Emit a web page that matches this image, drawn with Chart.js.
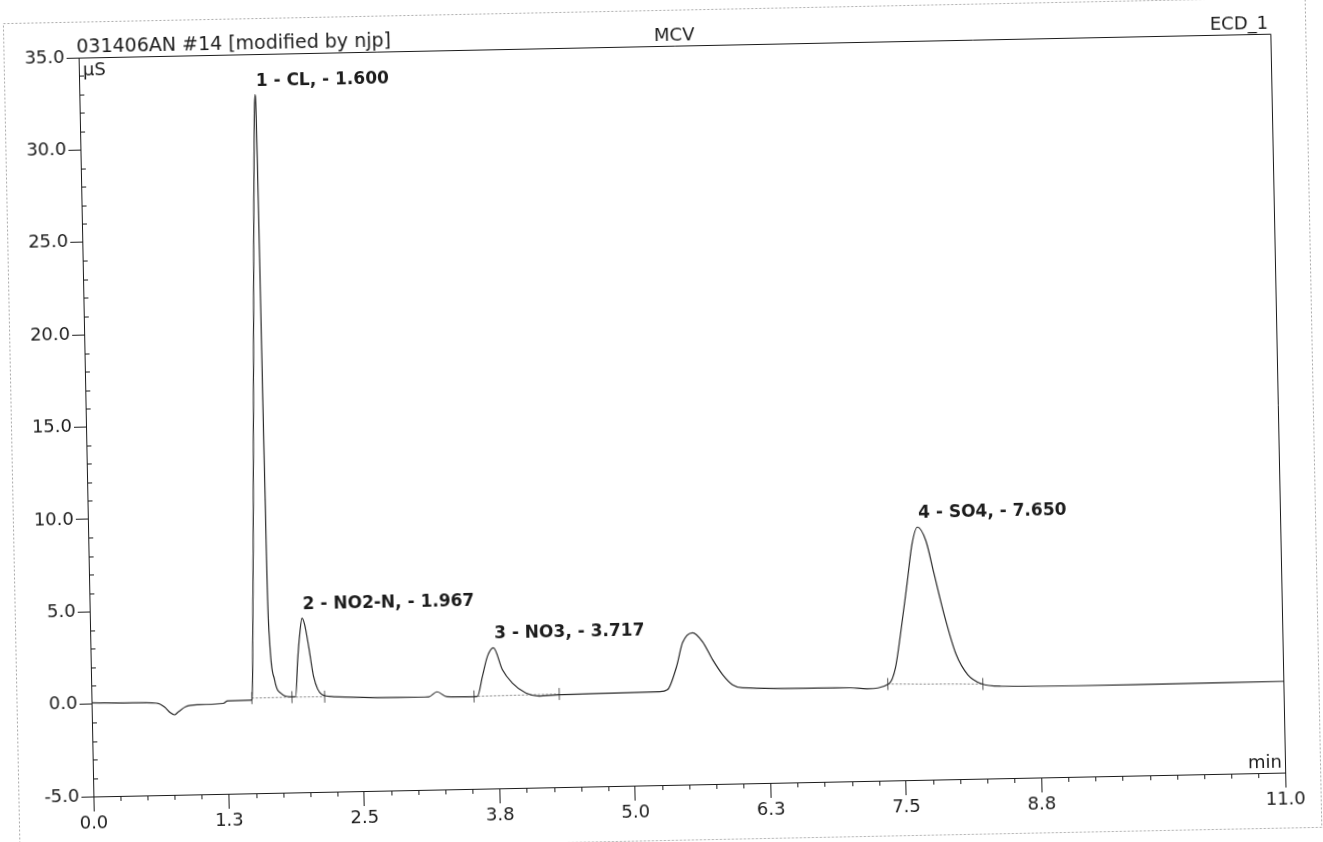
<!DOCTYPE html>
<html>
<head>
<meta charset="utf-8">
<title>ECD_1 chromatogram</title>
<script src="https://cdn.jsdelivr.net/npm/chart.js@4.4.1/dist/chart.umd.min.js"></script>
<style>
  html, body { margin: 0; padding: 0; background: #fff; overflow: hidden; }
  #wrap { position: relative; width: 1323px; height: 842px; }
  /* the scanned page sits slightly askew */
  #chromatogram { position: absolute; left: 0; top: 0; transform: rotate(-1.15deg); transform-origin: 50% 50%; }
</style>
</head>
<body>
<div id="wrap"><canvas id="chromatogram" width="1323" height="842"></canvas></div>
<script>
// detector trace (time in min, signal in µS)
const traceTime = [0.00, 0.34, 0.60, 0.67, 0.725, 0.762, 0.80, 0.865, 0.985, 1.217, 1.255, 1.467,
  1.48, 1.49, 1.53, 1.58, 1.61, 1.621, 1.628, 1.633, 1.637, 1.641, 1.654, 1.693, 1.755, 1.838,
  1.884, 1.91, 1.933, 1.957, 1.981, 2.014, 2.054, 2.128, 2.236,
  3.02, 3.114, 3.189, 3.281, 3.484,
  3.561, 3.611, 3.661, 3.718, 3.797, 3.887, 4.009, 4.131, 4.317,
  5.242, 5.316, 5.404, 5.464, 5.558, 5.649, 5.738, 5.828, 5.918, 6.01,
  7.0, 7.157, 7.361, 7.424, 7.476, 7.546, 7.60, 7.652, 7.727, 7.797, 7.882, 7.986, 8.09, 8.212, 8.396,
  9.636, 11.0];
const traceValue = [0.07, 0.03, -0.02, -0.22, -0.55, -0.67, -0.51, -0.25, -0.15, -0.10, 0.03, 0.04,
  0.06, 1.14, 10.9, 24.4, 31.6, 32.8, 31.5, 24.0, 15.5, 7.6, 3.3, 1.12, 0.35, 0.18,
  0.18, 2.18, 3.53, 4.43, 4.06, 2.87, 1.24, 0.26, 0.14,
  0.02, 0.03, 0.29, 0.01, -0.01,
  0.00, 1.07, 2.15, 2.61, 1.41, 0.68, 0.13, -0.05, 0.00,
  0.05, 0.15, 1.39, 2.68, 3.21, 2.71, 1.73, 0.91, 0.35, 0.18,
  0.06, -0.01, 0.24, 1.10, 2.89, 5.63, 7.79, 8.68, 7.95, 6.14, 3.94, 1.75, 0.64, 0.14, -0.02,
  -0.08, -0.06];

// named peaks
const peakNames = ['1 - CL, - 1.600', '2 - NO2-N, - 1.967', '3 - NO3, - 3.717', '4 - SO4, - 7.650'];
const peakTimes = [1.621, 1.957, 3.718, 7.652];
const peakHeights = [32.8, 4.43, 2.61, 8.68];

// integration baselines (start/end of each peak)
const baseStartTime = [1.48, 1.85, 3.53, 7.35];
const baseStartValue = [0.15, 0.16, 0.00, 0.22];
const baseEndTime = [1.85, 2.152, 4.317, 8.227];
const baseEndValue = [0.16, 0.15, 0.04, 0.12];

// peak delimiter marks
const markerTimes = [1.48, 1.85, 2.152, 3.53, 4.317, 7.35, 8.227];
const markerValues = [0.15, 0.16, 0.15, 0.00, 0.04, 0.22, 0.12];

// axes
const xTickValues = [0, 1.25, 2.5, 3.75, 5, 6.25, 7.5, 8.75, 11];
const xTickLabels = ['0.0', '1.3', '2.5', '3.8', '5.0', '6.3', '7.5', '8.8', '11.0'];
const yTickValues = [-5, 0, 5, 10, 15, 20, 25, 30, 35];
const yTickLabels = ['-5.0', '0.0', '5.0', '10.0', '15.0', '20.0', '25.0', '30.0', '35.0'];

const FAMILY = '"DejaVu Sans", "Liberation Sans", sans-serif';
const INK = '#1c1c1c';

const baselineData = [];
baseStartTime.forEach((t, i) => {
  baselineData.push({ x: t, y: baseStartValue[i] });
  baselineData.push({ x: baseEndTime[i], y: baseEndValue[i] });
  baselineData.push({ x: baseEndTime[i], y: null });
});

const scanFrame = {
  id: 'scanFrame',
  afterDraw(c) {
    const { ctx, chartArea: { left, right, top, bottom }, scales: { x, y } } = c;
    ctx.save();

    // outer page border
    ctx.strokeStyle = '#a8a8a8';
    ctx.lineWidth = 1;
    ctx.setLineDash([2, 2]);
    ctx.strokeRect(11.5, 10.5, 1302, 830);
    ctx.setLineDash([]);

    // top and right edge of the plot box
    ctx.strokeStyle = INK;
    ctx.beginPath();
    ctx.moveTo(left, Math.round(top) + 0.5);
    ctx.lineTo(Math.round(right) + 0.5, Math.round(top) + 0.5);
    ctx.lineTo(Math.round(right) + 0.5, bottom + 4);
    ctx.stroke();

    // minor ticks
    ctx.beginPath();
    for (let v = -5; v <= 35; v += 1) {
      if (yTickValues.includes(v)) continue;
      const py = Math.round(y.getPixelForValue(v)) + 0.5;
      ctx.moveTo(left, py);
      ctx.lineTo(left + 5, py);
    }
    for (let t = 0.25; t < 11; t += 0.25) {
      if (xTickValues.includes(t)) continue;
      const px = Math.round(x.getPixelForValue(t)) + 0.5;
      ctx.moveTo(px, bottom);
      ctx.lineTo(px, bottom + 5);
    }
    ctx.stroke();

    // header texts
    ctx.fillStyle = INK;
    ctx.textBaseline = 'alphabetic';
    ctx.font = '19px ' + FAMILY;
    ctx.textAlign = 'left';
    ctx.fillText('031406AN #14 [modified by njp]', left - 2, top - 5);
    ctx.font = '18px ' + FAMILY;
    ctx.textAlign = 'center';
    ctx.fillText('MCV', 682, top - 5);
    ctx.textAlign = 'right';
    ctx.fillText('ECD_1', right - 2, top - 5);

    // unit labels
    ctx.textAlign = 'left';
    ctx.textBaseline = 'top';
    ctx.fillText('µS', left + 4, top + 4);
    ctx.textAlign = 'right';
    ctx.textBaseline = 'alphabetic';
    ctx.fillText('min', right - 3, bottom - 5);

    // peak annotations
    ctx.font = 'bold 17px ' + FAMILY;
    ctx.textAlign = 'left';
    ctx.textBaseline = 'bottom';
    peakNames.forEach((name, i) => {
      const px = x.getPixelForValue(peakTimes[i]);
      const py = y.getPixelForValue(peakHeights[i]);
      ctx.fillText(name, px + 1, py - 5);
    });

    ctx.restore();
  }
};

const ctx = document.getElementById('chromatogram').getContext('2d');
new Chart(ctx, {
  type: 'line',
  data: {
    datasets: [
      {
        label: 'ECD_1',
        data: traceTime.map((t, i) => ({ x: t, y: traceValue[i] })),
        borderColor: '#2a2a2a',
        borderWidth: 1.2,
        pointRadius: 0,
        cubicInterpolationMode: 'monotone',
        fill: false
      },
      {
        label: 'baseline',
        data: baselineData,
        borderColor: '#7a7a7a',
        borderWidth: 1,
        borderDash: [2, 2],
        pointRadius: 0,
        tension: 0,
        spanGaps: false,
        fill: false
      },
      {
        label: 'delimiters',
        data: markerTimes.map((t, i) => ({ x: t, y: markerValues[i] })),
        showLine: false,
        pointStyle: 'line',
        rotation: 90,
        pointRadius: 6,
        borderColor: '#555',
        borderWidth: 1
      }
    ]
  },
  options: {
    responsive: false,
    animation: false,
    layout: { padding: { left: 0, right: 45, top: 46, bottom: 0 } },
    plugins: { legend: { display: false }, tooltip: { enabled: false } },
    scales: {
      x: {
        type: 'linear',
        min: 0,
        max: 11,
        afterBuildTicks: s => { s.ticks = xTickValues.map(v => ({ value: v })); },
        afterFit: s => { s.height = 57; },
        ticks: {
          callback: (v, i) => xTickLabels[i],
          autoSkip: false,
          maxRotation: 0,
          padding: 2,
          color: INK,
          font: { family: FAMILY, size: 18 }
        },
        grid: { drawOnChartArea: false, tickLength: 15, color: INK },
        border: { color: INK, width: 1 }
      },
      y: {
        type: 'linear',
        min: -5,
        max: 35,
        afterBuildTicks: s => { s.ticks = yTickValues.map(v => ({ value: v })); },
        afterFit: s => { s.width = 86; },
        ticks: {
          callback: (v, i) => yTickLabels[i],
          padding: 2,
          color: INK,
          font: { family: FAMILY, size: 18 }
        },
        grid: { drawOnChartArea: false, tickLength: 12, color: INK },
        border: { color: INK, width: 1 }
      }
    }
  },
  plugins: [scanFrame]
});
</script>
</body>
</html>
